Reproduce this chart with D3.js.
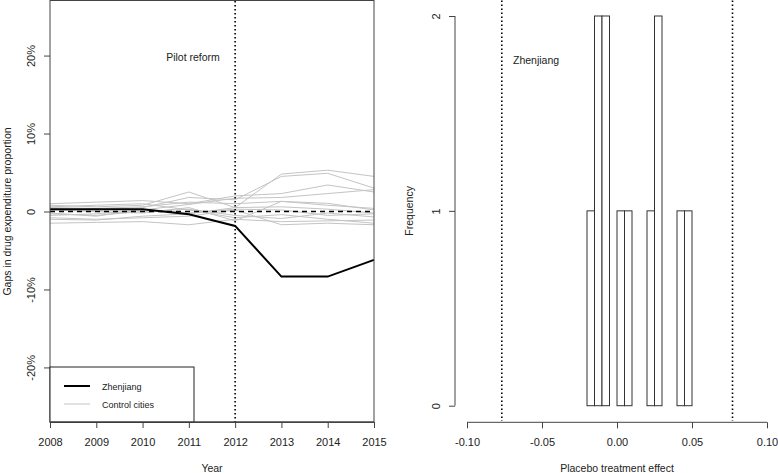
<!DOCTYPE html>
<html><head><meta charset="utf-8">
<script src="https://cdn.jsdelivr.net/npm/d3@7/dist/d3.min.js"></script>
<style>
html,body{margin:0;padding:0;background:#fff;}
svg{display:block;font-family:"Liberation Sans",Arial,sans-serif;}
</style></head><body>
<svg id="c" width="778" height="473"></svg>
<script>
// ---------- data ----------
const years = [2008, 2009, 2010, 2011, 2012, 2013, 2014, 2015];
const zhenjiang = [0.3, 0.3, 0.3, -0.35, -1.85, -8.35, -8.35, -6.2];
const controlCities = [
  [0.8, 0.6, 0.8, 2.5, 0.5, 4.8, 5.3, 4.5],
  [0.3, 0.2, 0.5, 1.8, 1.5, 4.5, 4.9, 3.0],
  [1.0, 1.2, 1.4, 1.0, 2.0, 2.3, 3.4, 2.5],
  [-0.5, -0.3, 0.2, 0.9, 1.7, 1.8, 2.3, 2.8],
  [0.5, 0.4, 0.6, 1.2, 1.0, 1.3, 1.05, 0.2],
  [-1.0, -1.1, -0.6, -0.3, 0.5, 0.6, 0.3, -0.2],
  [-0.3, -0.5, 0.0, 0.3, -0.5, -0.9, -0.2, -0.7],
  [-1.5, -1.4, -1.3, -1.7, -1.0, -1.3, -1.2, -1.1],
  [-0.8, -1.0, -0.8, -0.6, 0.2, -1.7, -1.5, -1.7],
  [0.2, 0.0, -0.2, 0.5, -1.2, 1.3, 0.8, 0.4],
  [-0.2, -0.6, 0.3, -0.2, 0.3, 0.2, -0.5, -0.3],
  [0.6, 0.8, 1.0, 0.2, -0.8, -0.4, -1.0, -1.5]
];
const leftYTicks = [-20, -10, 0, 10, 20];
const leftYTickLabels = ["-20%", "-10%", "0", "10%", "20%"];
const reformYear = 2012;

const histBreaks = [-0.02, -0.015, -0.01, -0.005, 0, 0.005, 0.01, 0.015, 0.02, 0.025, 0.03, 0.035, 0.04, 0.045, 0.05];
const histCounts = [1, 2, 2, 0, 1, 1, 0, 0, 1, 2, 0, 0, 1, 1];
const effectLines = [-0.0768, 0.0770];
const rightXTicks = [-0.10, -0.05, 0.00, 0.05, 0.10];
const rightYTicks = [0, 1, 2];

// ---------- drawing ----------
const svg = d3.select("#c");
const ink = "#222";
const tickFont = "11px";
const labFont = "10.5px";

// Left panel
const xL = d3.scaleLinear().domain([2008, 2015]).range([50, 374]);
const yL = d3.scaleLinear().domain([-27, 27]).range([422, 1]);
const gL = svg.append("g");

const lineL = d3.line().x((d, i) => xL(years[i])).y(d => yL(d));
gL.selectAll("path.ctrl").data(controlCities).join("path")
  .attr("class", "ctrl").attr("d", lineL)
  .attr("fill", "none").attr("stroke", "#c4c4c4").attr("stroke-width", 1);

gL.append("line").attr("x1", xL(2008)).attr("x2", xL(2015))
  .attr("y1", yL(0)).attr("y2", yL(0))
  .attr("stroke", "#000").attr("stroke-width", 1.6).attr("stroke-dasharray", "5,4");

gL.append("line").attr("x1", xL(reformYear)).attr("x2", xL(reformYear))
  .attr("y1", yL.range()[1]).attr("y2", yL.range()[0])
  .attr("stroke", "#000").attr("stroke-width", 1.6).attr("stroke-dasharray", "1.5,2.5");

gL.append("path").datum(zhenjiang).attr("d", lineL)
  .attr("fill", "none").attr("stroke", "#000").attr("stroke-width", 2);

gL.append("rect").attr("x", 50).attr("y", 0.5).attr("width", 324).attr("height", 421.5)
  .attr("fill", "none").attr("stroke", "#444").attr("stroke-width", 1);

const axXL = gL.append("g").attr("transform", `translate(0,${yL.range()[0]})`)
  .call(d3.axisBottom(xL).tickValues(years).tickFormat(d3.format("d")).tickSize(6).tickPadding(10));
axXL.select(".domain").attr("stroke", "#444");
axXL.selectAll(".tick line").attr("stroke", "#444");
axXL.selectAll("text").attr("font-size", tickFont).attr("fill", ink)
  .attr("font-family", "Liberation Sans, Arial, sans-serif");

const axYL = gL.append("g").attr("transform", `translate(50,0)`)
  .call(d3.axisLeft(yL).tickValues(leftYTicks).tickFormat((d, i) => leftYTickLabels[i]).tickSize(6).tickSizeOuter(0));
axYL.select(".domain").remove();
axYL.selectAll(".tick line").attr("stroke", "#444");
axYL.selectAll(".tick text").attr("font-size", tickFont).attr("fill", ink)
  .attr("font-family", "Liberation Sans, Arial, sans-serif")
  .attr("text-anchor", "middle").attr("x", 0).attr("dy", 0)
  .attr("transform", "translate(-15,0) rotate(-90)");

gL.append("text").attr("x", 212).attr("y", 472).attr("text-anchor", "middle")
  .attr("font-size", labFont).attr("fill", ink).text("Year");
gL.append("text").attr("transform", `translate(11,${yL(0)}) rotate(-90)`).attr("text-anchor", "middle")
  .attr("font-size", labFont).attr("fill", ink).text("Gaps in drug expenditure proportion");
gL.append("text").attr("x", 193).attr("y", 61).attr("text-anchor", "middle")
  .attr("font-size", labFont).attr("fill", ink).text("Pilot reform");

const leg = gL.append("g");
leg.append("rect").attr("x", 50).attr("y", 367).attr("width", 144).attr("height", 55)
  .attr("fill", "#fff").attr("stroke", "#222").attr("stroke-width", 1);
const legendItems = [["Zhenjiang", "#000", 2], ["Control cities", "#c4c4c4", 1]];
legendItems.forEach((it, i) => {
  const yy = 386 + i * 18;
  leg.append("line").attr("x1", 64).attr("x2", 90).attr("y1", yy).attr("y2", yy)
    .attr("stroke", it[1]).attr("stroke-width", it[2]);
  leg.append("text").attr("x", 102).attr("y", yy + 3.5).attr("font-size", "9px").attr("fill", ink).text(it[0]);
});
gL.append("line").attr("x1", 50).attr("x2", 374).attr("y1", 422).attr("y2", 422).attr("stroke", "#444");

// Right panel
const xR = d3.scaleLinear().domain([-0.108, 0.108]).range([455, 779]);
const yR = d3.scaleLinear().domain([0, 2]).range([405.7, 16]);
const gR = svg.append("g");

const bins = histCounts.map((c, i) => ({x0: histBreaks[i], x1: histBreaks[i + 1], c}));
gR.selectAll("rect.bar").data(bins).join("rect").attr("class", "bar")
  .attr("x", d => xR(d.x0)).attr("width", d => xR(d.x1) - xR(d.x0))
  .attr("y", d => yR(d.c)).attr("height", d => yR(0) - yR(d.c))
  .attr("fill", "#fff").attr("stroke", "#333").attr("stroke-width", 1);

gR.selectAll("line.eff").data(effectLines).join("line").attr("class", "eff")
  .attr("x1", d => xR(d)).attr("x2", d => xR(d)).attr("y1", 0.5).attr("y2", 421)
  .attr("stroke", "#000").attr("stroke-width", 1.6).attr("stroke-dasharray", "1.5,2.5");

const axXR = gR.append("g").attr("transform", `translate(0,422.3)`)
  .call(d3.axisBottom(xR).tickValues(rightXTicks).tickFormat(d3.format(".2f")).tickSize(6).tickPadding(10).tickSizeOuter(0));
axXR.select(".domain").attr("d", `M${xR(-0.1)},0H${xR(0.1)}`).attr("stroke", "#444");
axXR.selectAll(".tick line").attr("stroke", "#444");
axXR.selectAll("text").attr("font-size", tickFont).attr("fill", ink)
  .attr("font-family", "Liberation Sans, Arial, sans-serif")
  .text(d => d3.format(".2f")(d).replace("−", "-"));

const axYR = gR.append("g").attr("transform", `translate(455,0)`)
  .call(d3.axisLeft(yR).tickValues(rightYTicks).tickFormat(d3.format("d")).tickSize(6).tickSizeOuter(0));
axYR.select(".domain").attr("d", `M0,${yR(0)}V${yR(2)}`).attr("stroke", "#444");
axYR.selectAll(".tick line").attr("stroke", "#444");
axYR.selectAll(".tick text").attr("font-size", tickFont).attr("fill", ink)
  .attr("font-family", "Liberation Sans, Arial, sans-serif")
  .attr("text-anchor", "middle").attr("x", 0).attr("dy", 0)
  .attr("transform", "translate(-15,0) rotate(-90)");

gR.append("text").attr("x", 617).attr("y", 472).attr("text-anchor", "middle")
  .attr("font-size", labFont).attr("fill", ink).text("Placebo treatment effect");
gR.append("text").attr("transform", `translate(413,${yR(1)}) rotate(-90)`).attr("text-anchor", "middle")
  .attr("font-size", labFont).attr("fill", ink).text("Frequency");
gR.append("text").attr("x", 513).attr("y", 64)
  .attr("font-size", labFont).attr("fill", ink).text("Zhenjiang");
</script>
</body></html>
